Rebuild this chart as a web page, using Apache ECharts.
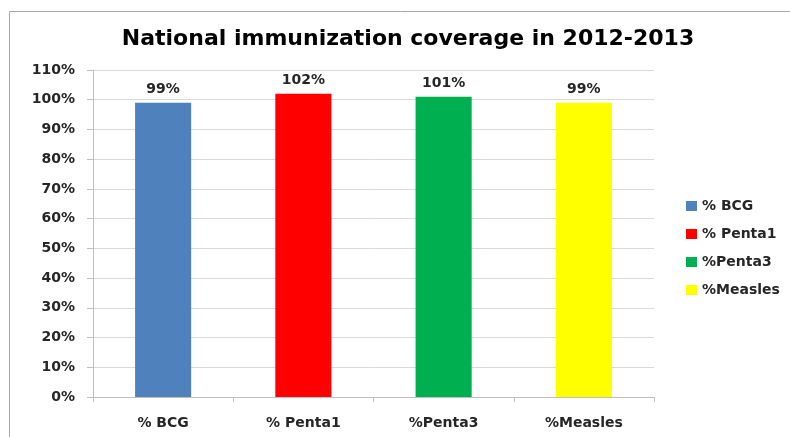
<!DOCTYPE html>
<html>
<head>
<meta charset="utf-8">
<script src="https://cdn.jsdelivr.net/npm/echarts@6/dist/echarts.min.js"></script>
<style>
  html, body { margin: 0; padding: 0; background: #fff; }
  #chart { width: 790px; height: 437px; }
</style>
</head>
<body>
<div id="chart"></div>
<script>
// Immunization coverage by vaccine, 2012-2013
const categories = ['% BCG', '% Penta1', '%Penta3', '%Measles'];
const coverage = [99, 102, 101, 99];
const barColors = ['#4F81BD', '#FF0000', '#00B050', '#FFFF00'];
const yTicks = [0, 10, 20, 30, 40, 50, 60, 70, 80, 90, 100, 110];

const font = '"DejaVu Sans", Verdana, sans-serif';

// One series per vaccine so each gets its own legend entry; stacking keeps bars centred
const series = categories.map((name, i) => ({
  name: name,
  type: 'bar',
  stack: 'all',
  barWidth: '40%',
  itemStyle: { color: barColors[i] },
  label: {
    show: true,
    position: 'top',
    distance: 6,
    formatter: p => p.value + '%',
    fontFamily: font,
    fontWeight: 'bold',
    fontSize: 14,
    color: '#262626'
  },
  data: categories.map((c, j) => (j === i ? coverage[i] : '-'))
}));

const chart = echarts.init(document.getElementById('chart'), null, { renderer: 'canvas' });
chart.setOption({
  animation: false,
  backgroundColor: '#fff',
  graphic: [{
    type: 'rect',
    shape: { x: 9.5, y: 11.5, width: 800, height: 440 },
    style: { fill: 'none', stroke: '#a6a6a6', lineWidth: 1 },
    silent: true,
    z: -1
  }],
  title: {
    text: 'National immunization coverage in 2012-2013',
    left: 403,
    textAlign: 'center',
    top: 23,
    textStyle: { fontFamily: font, fontWeight: 'bold', fontSize: 22, color: '#000' }
  },
  legend: {
    orient: 'vertical',
    left: 681,
    top: 194,
    itemWidth: 11,
    itemHeight: 10,
    itemGap: 14,
    icon: 'rect',
    data: categories,
    textStyle: { fontFamily: font, fontWeight: 'bold', fontSize: 14, color: '#262626' }
  },
  grid: { left: 93, right: 136, top: 70, bottom: 40 },
  xAxis: {
    type: 'category',
    data: categories,
    axisLine: { lineStyle: { color: '#bfbfbf' } },
    axisTick: { show: true, length: 5, lineStyle: { color: '#bfbfbf' } },
    axisLabel: { fontFamily: font, fontWeight: 'bold', fontSize: 14, color: '#262626', margin: 19 }
  },
  yAxis: {
    type: 'value',
    min: yTicks[0],
    max: yTicks[yTicks.length - 1],
    interval: 10,
    axisLine: { show: true, lineStyle: { color: '#bfbfbf' } },
    axisTick: { show: true, length: 6, lineStyle: { color: '#bfbfbf' } },
    splitLine: { lineStyle: { color: '#d9d9d9' } },
    axisLabel: {
      fontFamily: font, fontWeight: 'bold', fontSize: 14, color: '#262626', margin: 18,
      formatter: v => v + '%'
    }
  },
  series: series
});
</script>
</body>
</html>
